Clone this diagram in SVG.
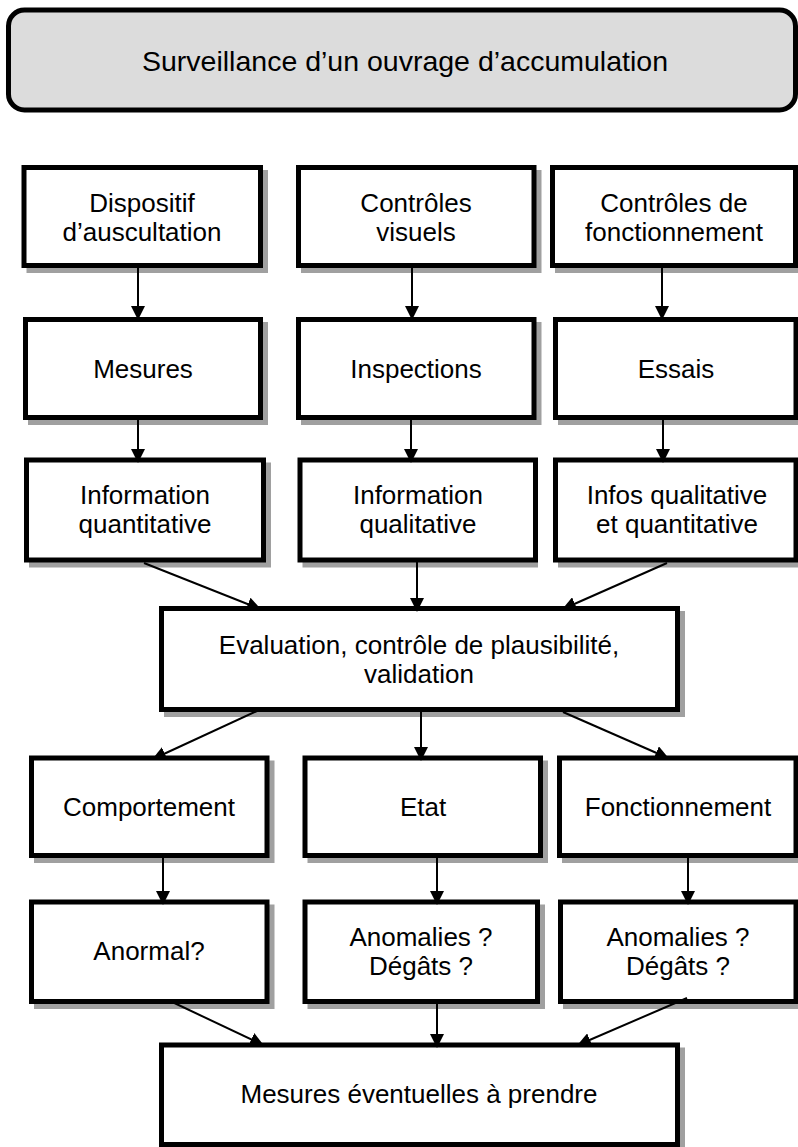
<svg xmlns="http://www.w3.org/2000/svg" width="798" height="1147" viewBox="0 0 798 1147">
<style>
.sh{fill:#a0a0a0;stroke:#a0a0a0;stroke-width:5}
.bx{fill:#ffffff;stroke:#000000;stroke-width:5}
.t{font-family:"Liberation Sans",Arial,sans-serif;font-size:26px;fill:#000;text-anchor:middle}
.c line{stroke:#000;stroke-width:2;marker-end:url(#ah)}
</style>
<defs>
<marker id="ah" markerUnits="userSpaceOnUse" markerWidth="14" markerHeight="14" viewBox="0 0 14 14" refX="13" refY="7" orient="auto">
<path d="M0,0 L14,7 L0,14 Z" fill="#000"/>
</marker>
</defs>
<g id="title">
<rect x="8.5" y="10" width="787" height="100" rx="16" ry="16" fill="#dcdcdc" stroke="#000" stroke-width="5"/>
<text class="t" x="405" y="71" style="font-size:28.5px">Surveillance d’un ouvrage d’accumulation</text>
</g>
<g id="n-dispositif">
<rect class="sh" x="29" y="172.5" width="236.5" height="98"/>
<rect class="bx" x="24" y="167.5" width="236.5" height="98"/>
<text class="t" x="142" y="211.5">Dispositif</text>
<text class="t" x="142" y="241">d’auscultation</text>
</g>
<g id="n-controles-visuels">
<rect class="sh" x="303.5" y="172.5" width="235.5" height="98"/>
<rect class="bx" x="298.5" y="167.5" width="235.5" height="98"/>
<text class="t" x="416" y="211.5">Contrôles</text>
<text class="t" x="416" y="241">visuels</text>
</g>
<g id="n-controles-fonct">
<rect class="sh" x="557.5" y="172.5" width="238" height="98"/>
<rect class="bx" x="552.5" y="167.5" width="243" height="98"/>
<text class="t" x="674" y="211.5">Contrôles de</text>
<text class="t" x="674" y="241">fonctionnement</text>
</g>
<g id="n-mesures">
<rect class="sh" x="30.5" y="324.5" width="235" height="98"/>
<rect class="bx" x="25.5" y="319.5" width="235" height="98"/>
<text class="t" x="143" y="378">Mesures</text>
</g>
<g id="n-inspections">
<rect class="sh" x="303.5" y="324.5" width="235.5" height="98"/>
<rect class="bx" x="298.5" y="319.5" width="235.5" height="98"/>
<text class="t" x="416" y="378">Inspections</text>
</g>
<g id="n-essais">
<rect class="sh" x="560.5" y="324.5" width="235" height="98"/>
<rect class="bx" x="555.5" y="319.5" width="240.5" height="98"/>
<text class="t" x="676" y="378">Essais</text>
</g>
<g id="n-info-quant">
<rect class="sh" x="31.5" y="465" width="237" height="100"/>
<rect class="bx" x="26.5" y="460" width="237" height="100"/>
<text class="t" x="145" y="503.5">Information</text>
<text class="t" x="145" y="533">quantitative</text>
</g>
<g id="n-info-qual">
<rect class="sh" x="305" y="465" width="230.5" height="100"/>
<rect class="bx" x="300" y="460" width="235.5" height="100"/>
<text class="t" x="418" y="503.5">Information</text>
<text class="t" x="418" y="533">qualitative</text>
</g>
<g id="n-infos">
<rect class="sh" x="560.5" y="465" width="235" height="100"/>
<rect class="bx" x="555.5" y="460" width="240.5" height="100"/>
<text class="t" x="677" y="503.5">Infos qualitative</text>
<text class="t" x="677" y="533">et quantitative</text>
</g>
<g id="n-evaluation">
<rect class="sh" x="166.5" y="613.5" width="516" height="101"/>
<rect class="bx" x="161.5" y="608.5" width="516" height="101"/>
<text class="t" x="419" y="654">Evaluation, contrôle de plausibilité,</text>
<text class="t" x="419" y="683">validation</text>
</g>
<g id="n-comportement">
<rect class="sh" x="36.5" y="763" width="235.5" height="97.5"/>
<rect class="bx" x="31.5" y="758" width="235.5" height="97.5"/>
<text class="t" x="149" y="816">Comportement</text>
</g>
<g id="n-etat">
<rect class="sh" x="310" y="763" width="235.5" height="97.5"/>
<rect class="bx" x="305" y="758" width="235.5" height="97.5"/>
<text class="t" x="423" y="816">Etat</text>
</g>
<g id="n-fonctionnement">
<rect class="sh" x="564.5" y="763" width="231" height="97.5"/>
<rect class="bx" x="559.5" y="758" width="236.5" height="97.5"/>
<text class="t" x="678" y="816">Fonctionnement</text>
</g>
<g id="n-anormal">
<rect class="sh" x="36.5" y="907" width="235.5" height="99.5"/>
<rect class="bx" x="31.5" y="902" width="235.5" height="99.5"/>
<text class="t" x="149" y="960">Anormal?</text>
</g>
<g id="n-anomalies-etat">
<rect class="sh" x="310" y="907" width="232.5" height="99.5"/>
<rect class="bx" x="305" y="902" width="232.5" height="99.5"/>
<text class="t" x="421" y="946">Anomalies ?</text>
<text class="t" x="421" y="975">Dégâts ?</text>
</g>
<g id="n-anomalies-fonct">
<rect class="sh" x="565.5" y="907" width="230" height="99.5"/>
<rect class="bx" x="560.5" y="902" width="235.5" height="99.5"/>
<text class="t" x="678" y="946">Anomalies ?</text>
<text class="t" x="678" y="975">Dégâts ?</text>
</g>
<g id="n-mesures-eventuelles">
<rect class="sh" x="166.5" y="1050" width="516" height="99.5"/>
<rect class="bx" x="161.5" y="1045" width="516" height="99.5"/>
<text class="t" x="419" y="1103">Mesures éventuelles à prendre</text>
</g>
<g id="connectors" class="c">
<line x1="138" y1="268" x2="138" y2="319"/>
<line x1="412" y1="268" x2="412" y2="319"/>
<line x1="662" y1="268" x2="662" y2="319"/>
<line x1="138" y1="420" x2="138" y2="462"/>
<line x1="411" y1="420" x2="411" y2="462"/>
<line x1="663" y1="420" x2="663" y2="462"/>
<line x1="144" y1="563" x2="260" y2="609"/>
<line x1="417" y1="562" x2="417" y2="611"/>
<line x1="667" y1="563" x2="563" y2="609"/>
<line x1="257" y1="711" x2="153" y2="759"/>
<line x1="421" y1="712" x2="421" y2="760"/>
<line x1="563" y1="712" x2="668" y2="758"/>
<line x1="163" y1="858" x2="163" y2="904"/>
<line x1="437" y1="858" x2="437" y2="904"/>
<line x1="688" y1="858" x2="688" y2="904"/>
<line x1="168" y1="1000" x2="263" y2="1045"/>
<line x1="437" y1="1004" x2="437" y2="1047"/>
<line x1="687" y1="998" x2="578" y2="1045"/>
</g>
</svg>
